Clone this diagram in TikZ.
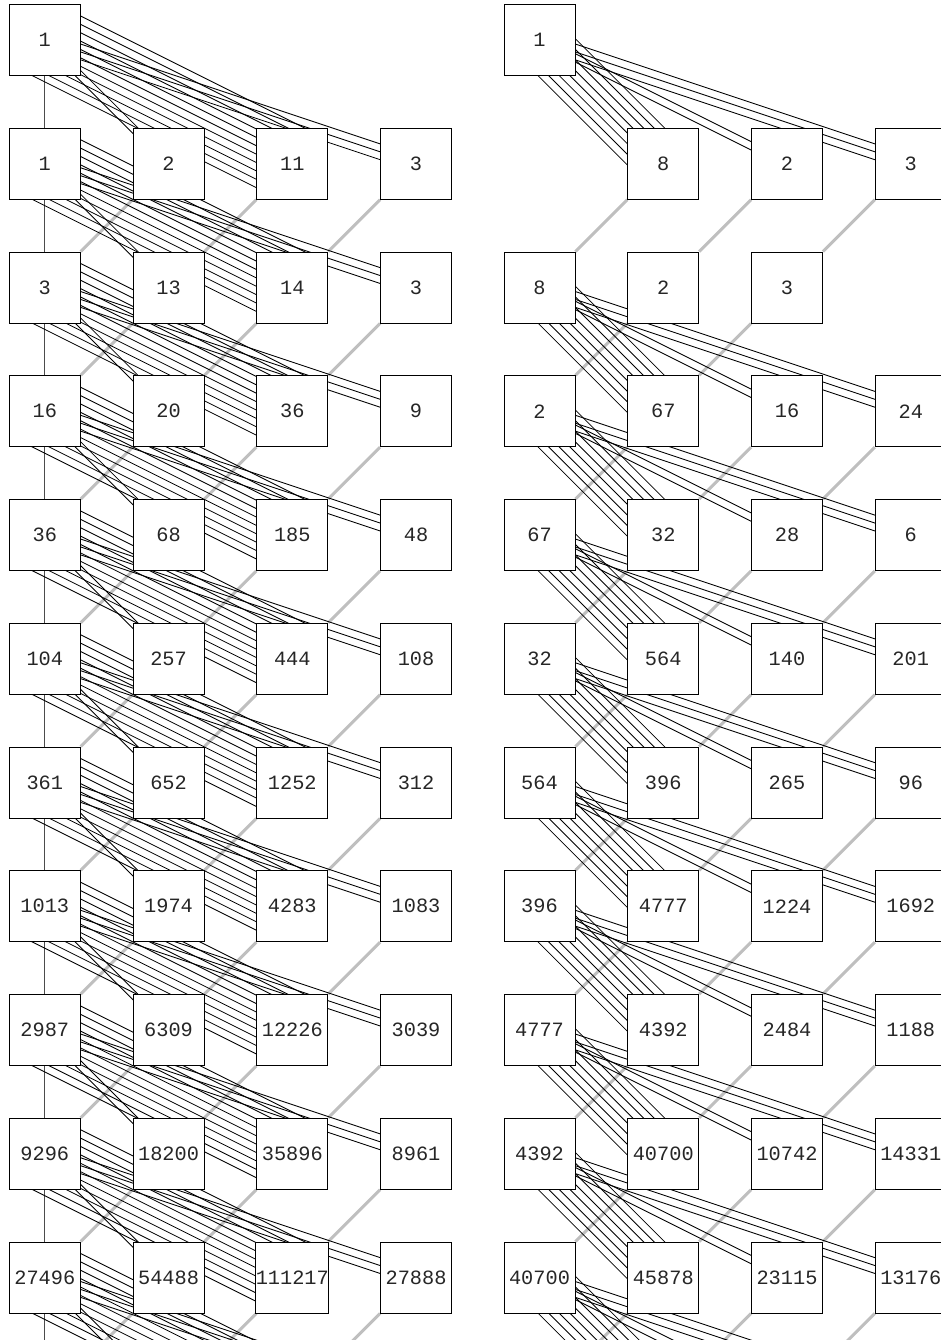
\documentclass[tikz,border=0pt]{standalone}
\usepackage{fontspec}
\setmonofont{Liberation Mono}
\usetikzlibrary{calc}
\pgfdeclarelayer{grayl}
\pgfdeclarelayer{blackl}
\pgfsetlayers{grayl,blackl,main}
\tikzset{
  cell/.style={draw=black, line width=0.9pt, fill=white,
    minimum width=71pt, minimum height=71pt, inner sep=0pt,
    font=\ttfamily\fontsize{20.3}{20.3}\selectfont, text=black!85},
  shiftln/.style={line width=3pt, draw=black!25},
  bundleln/.style={line width=0.85pt, draw=black},
  downln/.style={line width=1pt, draw=black!70},
}
\newcommand\cellL[3]{\node[cell] (L-#1-#2) at ({44.8+123.75*#2},{40+123.75*#1}) {#3};}
\newcommand\cellR[3]{\node[cell] (R-#1-#2) at ({539.5+123.75*#2},{40+123.75*#1}) {#3};}
\newcommand\drawbundle[3]{%
  \foreach \i in {1,...,#3}{%
    \pgfmathsetmacro\off{(\i-(#3+1)/2)*7.5}%
    \draw[bundleln] ($(#1)!\off pt!90:(#2)$) -- ($(#2)!\off pt!-90:(#1)$);
  }}
\begin{document}
\begin{tikzpicture}[x=1pt,y=-1pt]
\useasboundingbox (0,0) rectangle (941,1340);
% ---------- left panel ----------
\cellL{0}{0}{1}
\cellL{1}{0}{1}\cellL{1}{1}{2}\cellL{1}{2}{11}\cellL{1}{3}{3}
\cellL{2}{0}{3}\cellL{2}{1}{13}\cellL{2}{2}{14}\cellL{2}{3}{3}
\cellL{3}{0}{16}\cellL{3}{1}{20}\cellL{3}{2}{36}\cellL{3}{3}{9}
\cellL{4}{0}{36}\cellL{4}{1}{68}\cellL{4}{2}{185}\cellL{4}{3}{48}
\cellL{5}{0}{104}\cellL{5}{1}{257}\cellL{5}{2}{444}\cellL{5}{3}{108}
\cellL{6}{0}{361}\cellL{6}{1}{652}\cellL{6}{2}{1252}\cellL{6}{3}{312}
\cellL{7}{0}{1013}\cellL{7}{1}{1974}\cellL{7}{2}{4283}\cellL{7}{3}{1083}
\cellL{8}{0}{2987}\cellL{8}{1}{6309}\cellL{8}{2}{12226}\cellL{8}{3}{3039}
\cellL{9}{0}{9296}\cellL{9}{1}{18200}\cellL{9}{2}{35896}\cellL{9}{3}{8961}
\cellL{10}{0}{27496}\cellL{10}{1}{54488}\cellL{10}{2}{111217}\cellL{10}{3}{27888}
\foreach \c in {0,...,3}{\coordinate (L-11-\c) at ({44.8+123.75*\c},{40+123.75*11});}
% ---------- right panel ----------
\cellR{0}{0}{1}
\cellR{1}{1}{8}\cellR{1}{2}{2}\cellR{1}{3}{3}
\cellR{2}{0}{8}\cellR{2}{1}{2}\cellR{2}{2}{3}
\cellR{3}{0}{2}\cellR{3}{1}{67}\cellR{3}{2}{16}\cellR{3}{3}{24}
\cellR{4}{0}{67}\cellR{4}{1}{32}\cellR{4}{2}{28}\cellR{4}{3}{6}
\cellR{5}{0}{32}\cellR{5}{1}{564}\cellR{5}{2}{140}\cellR{5}{3}{201}
\cellR{6}{0}{564}\cellR{6}{1}{396}\cellR{6}{2}{265}\cellR{6}{3}{96}
\cellR{7}{0}{396}\cellR{7}{1}{4777}\cellR{7}{2}{1224}\cellR{7}{3}{1692}
\cellR{8}{0}{4777}\cellR{8}{1}{4392}\cellR{8}{2}{2484}\cellR{8}{3}{1188}
\cellR{9}{0}{4392}\cellR{9}{1}{40700}\cellR{9}{2}{10742}\cellR{9}{3}{14331}
\cellR{10}{0}{40700}\cellR{10}{1}{45878}\cellR{10}{2}{23115}\cellR{10}{3}{13176}
\foreach \c in {0,...,3}{\coordinate (R-11-\c) at ({539.5+123.75*\c},{40+123.75*11});}
% ---------- gray shift lines ----------
\begin{pgfonlayer}{grayl}
\foreach \r in {1,...,10}{
  \pgfmathtruncatemacro\rn{\r+1}
  \foreach \c in {1,2,3}{
    \pgfmathtruncatemacro\cp{\c-1}
    \draw[shiftln] (L-\r-\c) -- (L-\rn-\cp);
  }}
\foreach \c in {1,2,3}{\pgfmathtruncatemacro\cp{\c-1}\draw[shiftln] (R-1-\c) -- (R-2-\cp);}
\foreach \c in {1,2}{\pgfmathtruncatemacro\cp{\c-1}\draw[shiftln] (R-2-\c) -- (R-3-\cp);}
\foreach \r in {3,...,10}{
  \pgfmathtruncatemacro\rn{\r+1}
  \foreach \c in {1,2,3}{
    \pgfmathtruncatemacro\cp{\c-1}
    \draw[shiftln] (R-\r-\c) -- (R-\rn-\cp);
  }}
\end{pgfonlayer}
% ---------- black bundles ----------
\begin{pgfonlayer}{blackl}
\foreach \r in {0,...,10}{
  \pgfmathtruncatemacro\rn{\r+1}
  \draw[downln] (L-\r-0) -- (L-\rn-0);
  \drawbundle{L-\r-0}{L-\rn-1}{2}
  \drawbundle{L-\r-0}{L-\rn-2}{11}
  \drawbundle{L-\r-0}{L-\rn-3}{3}
}
\foreach \r in {0,2,3,4,5,6,7,8,9,10}{
  \pgfmathtruncatemacro\rn{\r+1}
  \drawbundle{R-\r-0}{R-\rn-1}{8}
  \drawbundle{R-\r-0}{R-\rn-2}{2}
  \drawbundle{R-\r-0}{R-\rn-3}{3}
}
\end{pgfonlayer}
\end{tikzpicture}
\end{document}
